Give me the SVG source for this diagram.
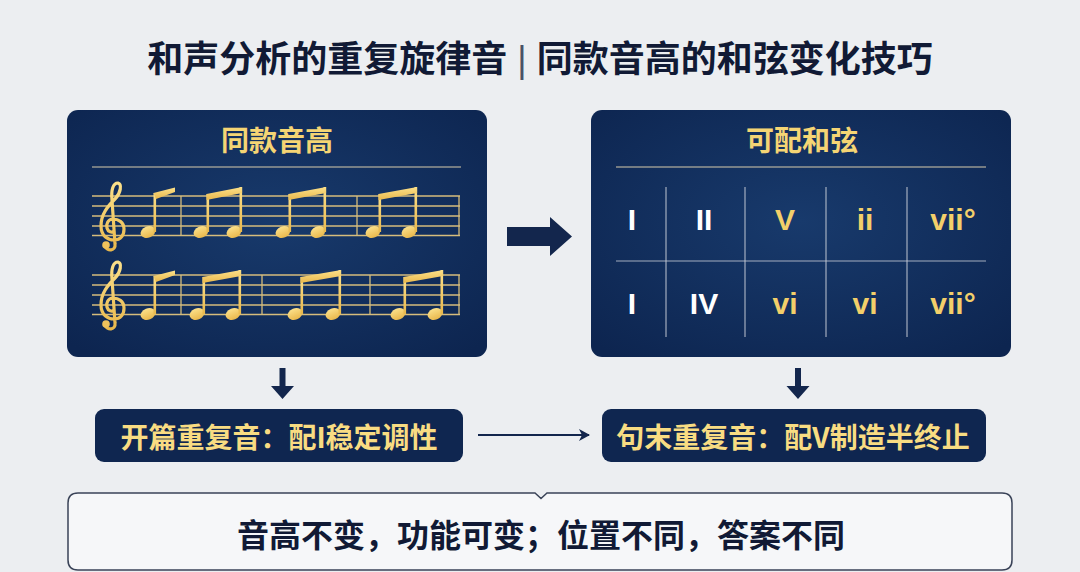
<svg xmlns="http://www.w3.org/2000/svg" width="1080" height="572" viewBox="0 0 1080 572">
<style>
  .title{font-family:"Noto Sans CJK SC","Noto Sans",sans-serif;font-weight:700;fill:#111a35;}
  .ptitle{font-family:"Noto Sans CJK SC","Noto Sans",sans-serif;font-weight:700;font-size:28px;fill:#f5d574;text-anchor:middle;}
  .btext{font-family:"Noto Sans CJK SC","Noto Sans",sans-serif;font-weight:700;font-size:28px;fill:#f8dc82;text-anchor:middle;}
  .chord{font-family:"Liberation Sans","Noto Sans",sans-serif;font-weight:700;font-size:30px;text-anchor:middle;}
  .sep{font-family:"Liberation Sans",sans-serif;font-weight:400;fill:#4a5266;}
  .w{fill:#ffffff;}
  .g{fill:#f3cf6a;}
  .staff line{stroke:#d6bd7c;stroke-width:1.3;}
  .panel{fill:url(#navy);}
  .divider{stroke:#d8ccac;stroke-width:1.2;}
  .grid{stroke:#c9ced8;stroke-width:1.2;opacity:0.8;}
  .note{fill:url(#gold);}
  .clef{fill:none;stroke:url(#gold);stroke-width:3.2;stroke-linecap:round;stroke-linejoin:round;}
  .darrow{fill:#13264d;}
</style>
<defs>
  <radialGradient id="navy" cx="50%" cy="45%" r="70%">
    <stop offset="0" stop-color="#183a6c"/>
    <stop offset="1" stop-color="#0d2550"/>
  </radialGradient>
  <linearGradient id="gold" x1="0" y1="0" x2="0" y2="1">
    <stop offset="0" stop-color="#fbe08a"/>
    <stop offset="1" stop-color="#e9b84c"/>
  </linearGradient>
  <marker id="ah" markerWidth="12" markerHeight="12" refX="10" refY="6" orient="auto" markerUnits="userSpaceOnUse">
    <path d="M0,0 L11,6 L0,12 L3,6 Z" fill="#13264d"/>
  </marker>
  <g id="clef">
    <path class="clef" d="M105,246 C107,252 116,251 115,244 L112,200 C111,190 113,183 118,183 C122,184 121,193 115,199 C108,206 101,214 101,226 C101,236 108,240 114,240 C121,240 124,235 124,229 C124,222 118,219 113,219 C108,219 106,224 107,228 C108,232 112,233 114,231"/>
    <circle cx="106" cy="245" r="3.8" fill="#efc25c"/>
  </g>
  <ellipse id="head" cx="0" cy="0" rx="7.6" ry="5.6" transform="rotate(-22)" class="note"/>
</defs>

<rect width="1080" height="572" fill="#eceef1"/>

<g id="title">
  <text class="title" x="540" y="72" font-size="36" text-anchor="middle">和声分析的重复旋律音<tspan class="sep" dx="10">|</tspan><tspan dx="10">同款音高的和弦变化技巧</tspan></text>
</g>

<g id="panel-left">
  <rect class="panel" x="67" y="110" width="420" height="247" rx="11"/>
  <text class="ptitle" x="277" y="151">同款音高</text>
  <line class="divider" x1="92" y1="167" x2="461" y2="167"/>
  <g class="staff">
    <line x1="92" y1="196" x2="460" y2="196"/>
    <line x1="92" y1="206" x2="460" y2="206"/>
    <line x1="92" y1="216" x2="460" y2="216"/>
    <line x1="92" y1="226" x2="460" y2="226"/>
    <line x1="92" y1="235.5" x2="460" y2="235.5"/>
    <line x1="181" y1="196" x2="181" y2="235.5"/>
    <line x1="357" y1="196" x2="357" y2="235.5"/>
    <line x1="459" y1="196" x2="459" y2="235.5"/>
  </g>
  <use href="#clef"/>
  <g class="notes1">
    <use href="#head" x="148" y="232"/>
    <rect class="note" x="153.5" y="193" width="2.6" height="39"/>
    <path class="note" d="M153.5,193 L175,187.5 L175,192 L156,199 Z"/>
    <use href="#head" x="201" y="232"/>
    <use href="#head" x="234" y="232"/>
    <rect class="note" x="206.5" y="194" width="2.6" height="38"/>
    <rect class="note" x="239.5" y="187" width="2.6" height="45"/>
    <path class="note" d="M206.5,194 L242.1,187 L242.1,193 L206.5,200 Z"/>
    <use href="#head" x="283" y="232"/>
    <use href="#head" x="318" y="232"/>
    <rect class="note" x="288.5" y="194" width="2.6" height="38"/>
    <rect class="note" x="323.5" y="187" width="2.6" height="45"/>
    <path class="note" d="M288.5,194 L326.1,187 L326.1,193 L288.5,200 Z"/>
    <use href="#head" x="373" y="232"/>
    <use href="#head" x="409" y="232"/>
    <rect class="note" x="378.5" y="194" width="2.6" height="38"/>
    <rect class="note" x="414.5" y="187" width="2.6" height="45"/>
    <path class="note" d="M378.5,194 L417.1,187 L417.1,193 L378.5,200 Z"/>
  </g>
  <g class="staff">
    <line x1="92" y1="275" x2="460" y2="275"/>
    <line x1="92" y1="285" x2="460" y2="285"/>
    <line x1="92" y1="295" x2="460" y2="295"/>
    <line x1="92" y1="305" x2="460" y2="305"/>
    <line x1="92" y1="314.5" x2="460" y2="314.5"/>
    <line x1="181" y1="275" x2="181" y2="314.5"/>
    <line x1="262" y1="275" x2="262" y2="314.5"/>
    <line x1="370" y1="275" x2="370" y2="314.5"/>
    <line x1="459" y1="275" x2="459" y2="314.5"/>
  </g>
  <use href="#clef" x="0" y="79"/>
  <g class="notes2">
    <use href="#head" x="148" y="314"/>
    <rect class="note" x="153.5" y="276" width="2.6" height="38"/>
    <path class="note" d="M153.5,276 L175,270.5 L175,275 L156,282 Z"/>
    <use href="#head" x="197" y="314"/>
    <use href="#head" x="233" y="314"/>
    <rect class="note" x="202.5" y="277" width="2.6" height="37"/>
    <rect class="note" x="238.5" y="270" width="2.6" height="44"/>
    <path class="note" d="M202.5,277 L241.1,270 L241.1,276 L202.5,283 Z"/>
    <use href="#head" x="295" y="314"/>
    <use href="#head" x="333" y="314"/>
    <rect class="note" x="300.5" y="277" width="2.6" height="37"/>
    <rect class="note" x="338.5" y="270" width="2.6" height="44"/>
    <path class="note" d="M300.5,277 L341.1,270 L341.1,276 L300.5,283 Z"/>
    <use href="#head" x="398" y="314"/>
    <use href="#head" x="435" y="314"/>
    <rect class="note" x="403.5" y="277" width="2.6" height="37"/>
    <rect class="note" x="440.5" y="270" width="2.6" height="44"/>
    <path class="note" d="M403.5,277 L443.1,270 L443.1,276 L403.5,283 Z"/>
  </g>
</g>

<g id="panel-right">
  <rect class="panel" x="591" y="110" width="420" height="247" rx="11"/>
  <text class="ptitle" x="802" y="151">可配和弦</text>
  <line class="divider" x1="616" y1="167" x2="986" y2="167"/>
  <line class="grid" x1="616" y1="261" x2="986" y2="261"/>
  <line class="grid" x1="666" y1="187" x2="666" y2="337"/>
  <line class="grid" x1="745" y1="187" x2="745" y2="337"/>
  <line class="grid" x1="826" y1="187" x2="826" y2="337"/>
  <line class="grid" x1="907" y1="187" x2="907" y2="337"/>
  <text class="chord w" x="632" y="230">I</text>
  <text class="chord w" x="704" y="230">II</text>
  <text class="chord g" x="785" y="230">V</text>
  <text class="chord g" x="865" y="230">ii</text>
  <text class="chord g" x="953" y="230">vii°</text>
  <text class="chord w" x="632" y="314">I</text>
  <text class="chord w" x="704" y="314">IV</text>
  <text class="chord g" x="785" y="314">vi</text>
  <text class="chord g" x="865" y="314">vi</text>
  <text class="chord g" x="953" y="314">vii°</text>
</g>

<g id="box-left">
  <rect x="95" y="409" width="368" height="53" rx="9" fill="#0f2650"/>
  <text class="btext" x="279" y="448">开篇重复音：配I稳定调性</text>
</g>

<g id="box-right">
  <rect x="602" y="409" width="384" height="53" rx="9" fill="#0f2650"/>
  <text class="btext" x="793" y="448">句末重复音：配V制造半终止</text>
</g>

<g id="summary">
  <path d="M78,493 H535 L541,498.5 L547,493 H1002 Q1012,493 1012,503 V560 Q1012,570 1002,570 H78 Q68,570 68,560 V503 Q68,493 78,493 Z" fill="#f6f7f9" stroke="#3a4358" stroke-width="1.5"/>
  <text class="title" x="541" y="547" font-size="32" text-anchor="middle">音高不变，功能可变；位置不同，答案不同</text>
</g>

<g id="connectors">
  <path class="darrow" d="M507,227 H550 V217 L572,236.5 L550,256 V246 H507 Z"/>
  <path class="darrow" d="M279.5,368 H285.5 V386 H294 L282.5,399 L271,386 H279.5 Z"/>
  <path class="darrow" d="M795,368 H801 V386 H809.5 L798,399 L786.5,386 H795 Z"/>
  <line x1="478" y1="435" x2="589" y2="435" stroke="#13264d" stroke-width="2" marker-end="url(#ah)"/>
</g>
</svg>
